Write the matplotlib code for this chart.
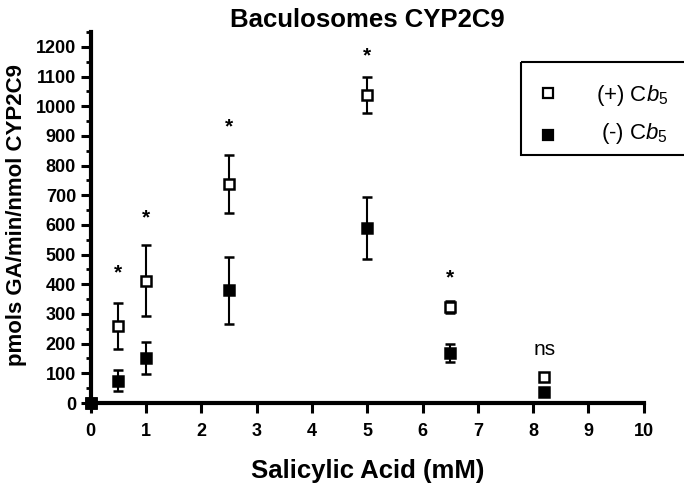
import matplotlib
matplotlib.use("Agg")
import matplotlib.pyplot as plt
from matplotlib.ticker import MultipleLocator
from matplotlib.patches import Rectangle

plt.rcParams['font.family'] = ['Liberation Sans', 'DejaVu Sans']
plt.rcParams['mathtext.fontset'] = 'custom'
plt.rcParams['mathtext.rm'] = 'Liberation Sans'
plt.rcParams['mathtext.it'] = 'Liberation Sans:italic'

conc = [0, 0.5, 1, 2.5, 5, 6.5, 8.2]
plus_mean = [0, 260, 412, 738, 1038, 322, 87]
plus_err = [0, 77, 120, 98, 60, 20, 8]
minus_mean = [0, 75, 152, 380, 590, 168, 38]
minus_err = [0, 36, 53, 113, 105, 31, 8]
sig_labels = ['', '*', '*', '*', '*', '*', 'ns']
sig_y = [0, 440, 625, 930, 1168, 420, 179]
legend_labels = [r'(+) C$b_{\mathit{5}}$', r'(-) C$b_{\mathit{5}}$']

W, H = 684, 488
fig = plt.figure(figsize=(W / 100, H / 100), dpi=100)
ax = fig.add_axes([90.7 / W, 85 / H, 553 / W, 371 / H])

ax.errorbar(conc, plus_mean, yerr=plus_err, fmt='s', mfc='white', mec='black',
            mew=1.8, ms=7, ecolor='black', elinewidth=1.5, capsize=3.5, capthick=1.5,
            clip_on=False, zorder=4)
ax.errorbar(conc, minus_mean, yerr=minus_err, fmt='s', mfc='black', mec='black',
            mew=1.8, ms=7, ecolor='black', elinewidth=1.5, capsize=3.5, capthick=1.5,
            clip_on=False, zorder=5)

for x, y, s in zip(conc, sig_y, sig_labels):
    if not s:
        continue
    if s == '*':
        ax.text(x, y, s, ha='center', va='center', fontsize=15, fontweight='bold')
    else:
        ax.text(x, y, s, ha='center', va='center', fontsize=15)

ax.set_xlim(0, 10)
ax.set_ylim(0, 1250)
ax.xaxis.set_major_locator(MultipleLocator(1))
ax.set_yticks(range(0, 1201, 100))
ax.yaxis.set_minor_locator(MultipleLocator(50))

for s in ['top', 'right']:
    ax.spines[s].set_visible(False)
for s in ['left', 'bottom']:
    ax.spines[s].set_linewidth(3)

ax.tick_params(axis='both', which='major', length=7.5, width=2.2, labelsize=13)
ax.tick_params(axis='y', which='major', pad=3)
ax.tick_params(axis='x', which='major', pad=7)
ax.tick_params(axis='y', which='minor', length=3.5, width=2.0)
for lab in ax.get_xticklabels() + ax.get_yticklabels():
    lab.set_fontweight('bold')

ax.set_xlabel('Salicylic Acid (mM)', fontsize=18.5, fontweight='bold')
ax.xaxis.set_label_coords(0.5, (403 - 459) / 371)
ax.xaxis.label.set_va('top')
ax.set_ylabel('pmols GA/min/nmol CYP2C9', fontsize=16, fontweight='bold')
ax.yaxis.label.set_va('center')
ax.yaxis.label.set_ha('center')
ax.yaxis.set_label_coords((16.5 - 90.7) / 553, (403 - 215) / 371)
ax.set_title('Baculosomes CYP2C9', fontsize=18.5, fontweight='bold', pad=0)
ax.title.set_position((0.5, (403 - 3) / 371))
ax.title.set_va('top')

# legend box (pixel coordinates of the figure)
lax = fig.add_axes([0, 0, 1, 1], facecolor='none')
lax.set_xlim(0, W)
lax.set_ylim(H, 0)
lax.axis('off')
lax.add_patch(Rectangle((521, 62), 180, 93, fill=False, lw=1.5, ec='black', clip_on=False))
lax.plot([548], [92.5], ls='none', marker='s', ms=7, mfc='white', mec='black', mew=1.6)
lax.plot([548], [135], ls='none', marker='s', ms=7, mfc='black', mec='black', mew=1.6)
lax.text(668, 96, legend_labels[0], ha='right', va='center', fontsize=16)
lax.text(668, 134, legend_labels[1], ha='right', va='center', fontsize=16)

fig.savefig('out.png', dpi=100)
